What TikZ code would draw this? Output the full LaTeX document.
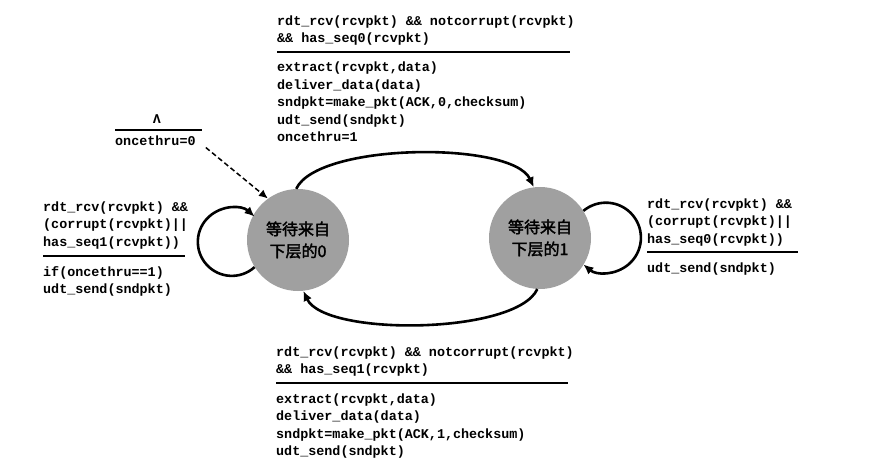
\documentclass[tikz,border=0pt]{standalone}
\usepackage{fontspec}
\newfontfamily\monof{Liberation Mono}
\newfontfamily\cjkf{Noto Sans CJK SC}[FakeBold=2]
\usetikzlibrary{arrows.meta}
\definecolor{stategray}{RGB}{160,160,160}
\newcommand\myst{\rule{0pt}{12.5pt}}
\begin{document}
\begin{tikzpicture}[x=1pt,y=1pt,
  lbl/.style={font=\monof\bfseries\fontsize{13.4}{17.5}\selectfont, inner sep=0pt, anchor=north west, align=left},
  state/.style={circle, fill=stategray, minimum size=102pt, inner sep=0pt, align=center, font=\cjkf\fontsize{16}{22}\selectfont},
  trans/.style={line width=2.6pt, -{Latex[length=10pt,width=9pt]}},
  initarr/.style={line width=1.5pt, dash pattern=on 5pt off 3pt, -{Latex[length=9pt,width=8pt]}},
  sep/.style={line width=1.6pt}]
\useasboundingbox (0,0) rectangle (883,-465);
\fill[white] (0,0) rectangle (883,-465);

% states
\node[state] (c0) at (298,-240) {等待来自\\下层的0};
\node[state] (c1) at (540,-238) {等待来自\\下层的1};

% top transition label
\node[lbl] (topc) at (277,-12.5) {\myst rdt\_rcv(rcvpkt) \&\& notcorrupt(rcvpkt)\\\&\& has\_seq0(rcvpkt)};
\draw[sep] (277,-52) -- (570,-52);
\node[lbl] (topa) at (277,-59) {\myst extract(rcvpkt,data)\\deliver\_data(data)\\sndpkt=make\_pkt(ACK,0,checksum)\\udt\_send(sndpkt)\\oncethru=1};

% initial label
\node[font=\monof\bfseries\fontsize{13.4}{17.5}\selectfont, inner sep=0pt, anchor=base] (initc) at (157,-124) {Λ};
\draw[sep] (115,-130) -- (202,-130);
\node[lbl] (inita) at (115,-132.5) {\myst oncethru=0};

% left self loop label
\node[lbl] (leftc) at (43,-198.5) {\myst rdt\_rcv(rcvpkt) \&\&\\(corrupt(rcvpkt)||\\has\_seq1(rcvpkt))};
\draw[sep] (43,-256) -- (185,-256);
\node[lbl] (lefta) at (43,-263.5) {\myst if(oncethru==1)\\udt\_send(sndpkt)};

% right self loop label
\node[lbl] (rightc) at (647,-195.5) {\myst rdt\_rcv(rcvpkt) \&\&\\(corrupt(rcvpkt)||\\has\_seq0(rcvpkt))};
\draw[sep] (647,-252) -- (798,-252);
\node[lbl] (righta) at (647,-259.5) {\myst udt\_send(sndpkt)};

% bottom transition label
\node[lbl] (botc) at (276,-343.5) {\myst rdt\_rcv(rcvpkt) \&\& notcorrupt(rcvpkt)\\\&\& has\_seq1(rcvpkt)};
\draw[sep] (276,-383) -- (568,-383);
\node[lbl] (bota) at (276,-390.5) {\myst extract(rcvpkt,data)\\deliver\_data(data)\\sndpkt=make\_pkt(ACK,1,checksum)\\udt\_send(sndpkt)};

% transitions
\draw[trans] (c0.92) to[out=65, in=115, looseness=0.55] (c1.97);
\draw[trans] (c1.-93) to[out=-115, in=-65, looseness=0.55] (c0.-84);
\draw[trans] (c0.212) arc[start angle=-48, end angle=-312, radius=34];
\draw[trans] (c1.32) arc[start angle=130, end angle=-130, radius=35];
\draw[initarr] ([shift={(10,-2)}]inita.south east) -- (c0.126);
\end{tikzpicture}
\end{document}
